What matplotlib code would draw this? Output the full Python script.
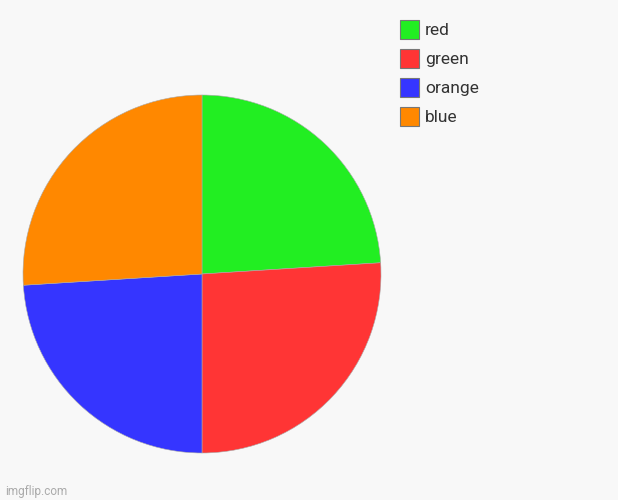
import matplotlib
matplotlib.use("Agg")
import matplotlib.pyplot as plt
from matplotlib.patches import Patch

# slice data (clockwise from top)
labels = ["red", "green", "orange", "blue"]
values = [24, 26, 24, 26]
colors = ["#22ee22", "#ff3535", "#3535ff", "#ff8800"]

plt.rcParams['font.family'] = ['Roboto', 'DejaVu Sans']

fig = plt.figure(figsize=(6.18, 5.0), dpi=100)
fig.patch.set_facecolor("#f8f8f8")

# pie centre ~ (202, 274) px, radius ~179 px
ax = fig.add_axes([23 / 618, 47 / 500, 358 / 618, 358 / 500])
ax.pie(values, colors=colors, startangle=90, counterclock=False,
       wedgeprops=dict(edgecolor="#aaaaaa", linewidth=0.4))
ax.set_xlim(-1, 1)
ax.set_ylim(-1, 1)
ax.set_aspect("auto")
ax.axis("off")

handles = [Patch(facecolor=c, edgecolor="#777777", linewidth=0.8) for c in colors]
leg = fig.legend(handles, labels, loc="upper left",
                 bbox_to_anchor=(400 / 618, 1 - 20 / 500),
                 frameon=False, fontsize=12.5, handlelength=1.1, handleheight=1.3,
                 handletextpad=0.35, labelspacing=0.58, borderaxespad=0,
                 borderpad=0)
for t in leg.get_texts():
    t.set_color("#333333")

fig.text(5 / 618, 1 - 492 / 500, "imgflip.com", fontsize=8.5, color="#aaaaaa",
         va="center", ha="left")

fig.savefig("out.png", dpi=100, facecolor=fig.get_facecolor())
